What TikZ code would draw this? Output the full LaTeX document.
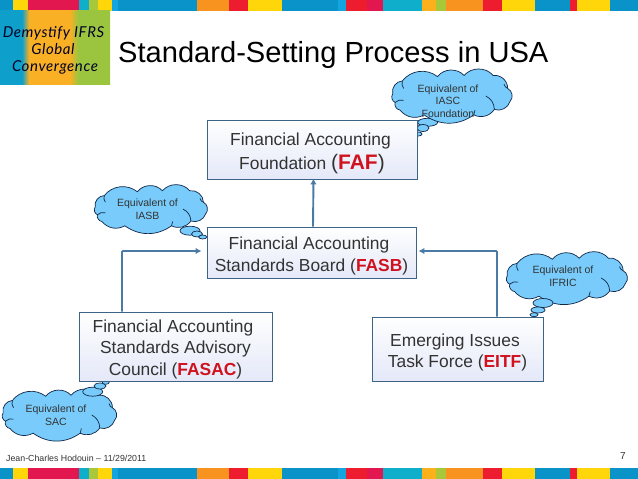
\documentclass[tikz,border=0pt]{standalone}
\usepackage{fontspec}
\setmainfont{Liberation Sans}
\newfontfamily\logofont[LetterSpace=4]{Lato}
\definecolor{cblue}{HTML}{0A93C8}
\definecolor{clight}{HTML}{12A5E0}
\definecolor{cyel}{HTML}{FFD60A}
\definecolor{ccrim}{HTML}{E3174F}
\definecolor{cred}{HTML}{ED1C2E}
\definecolor{cteal}{HTML}{0FAFCB}
\definecolor{cgreen}{HTML}{A8C83A}
\definecolor{camber}{HTML}{FBB01C}
\definecolor{corange}{HTML}{F9931F}
\definecolor{lblue}{HTML}{0E9FCB}
\definecolor{lorange}{HTML}{F9B024}
\definecolor{lgreen}{HTML}{9CC53F}
\definecolor{boxline}{HTML}{3D6486}
\definecolor{boxlow}{HTML}{E4E8F8}
\definecolor{arrowc}{HTML}{4A7BA6}
\definecolor{cloudfill}{HTML}{78CBFA}
\definecolor{cloudline}{HTML}{10284A}
\definecolor{boxtext}{HTML}{333333}
\definecolor{hilite}{HTML}{D0121F}
\usetikzlibrary{arrows.meta,shapes.geometric}
\pgfdeclarehorizontalshading{logoshade}{100bp}{color(0bp)=(lblue); color(35bp)=(lblue); color(38.2bp)=(lorange); color(56.8bp)=(lorange); color(60.5bp)=(lgreen); color(100bp)=(lgreen)}
\tikzset{
  bigbox/.style={draw=boxline,line width=0.9pt,top color=white,bottom color=boxlow,
    inner sep=0pt,align=center,text=boxtext},
  flowline/.style={draw=arrowc,line width=1.9pt,-{Latex[length=6pt,width=6.5pt]}},
  cloudedge/.style={draw=cloudline,fill=cloudfill,line width=0.7pt},
  cloudtext/.style={align=center,text=boxtext,inner sep=0pt,font=\fontsize{10.5}{12.6}\selectfont},
  bubble/.style={cloudedge,ellipse,inner sep=0pt}
}
\newcommand{\hl}[1]{\textcolor{hilite}{\textbf{#1}}}
\newcommand{\stripes}[1]{%
  \foreach \a/\b/\c in {0/13/cblue,13/28/cyel,28/79/ccrim,79/89/cteal,89/98/cgreen,98/112/cyel,112/118/clight,118/197/cblue,197/229/corange,229/248/cred,248/282/cyel,282/338/cblue,338/346/clight,346/367/cred,367/383/ccrim,383/422/cteal,422/436/camber,436/446/cgreen,446/483/corange,483/502/cred,502/535/cyel,535/570/cblue,570/577/cred,577/610/cyel,610/638/cblue}
    {\fill[\c] (\a,#1) rectangle (\b,#1+11);}}
\newcommand{\cloudat}[4]{%
  \begin{scope}[shift={(#1,#2)},x=#3pt,y=-#4pt]
    \draw[cloudedge] (0.01,.46) to[bend left=50] (.09,.22) to[bend left=45] (.38,.14)
      to[bend left=50] (.60,.12) to[bend left=50] (.84,.12) to[bend left=50] (.96,.36)
      to[bend left=55] (.98,.60) to[bend left=45] (.85,.75) to[bend left=40] (.68,.85)
      to[bend left=35] (.27,.85) to[bend left=40] (.07,.76) to[bend left=50] (.03,.62)
      to[bend left=50] cycle;
    \draw[cloudline,line width=0.7pt] (.78,.50) to[bend left=30] (.85,.75);
    \draw[cloudline,line width=0.7pt] (.96,.36) to[bend left=25] (.93,.28);
    \draw[cloudline,line width=0.7pt] (.09,.22) to[bend right=25] (.10,.36);
    \draw[cloudline,line width=0.7pt] (.03,.62) to[bend left=30] (.10,.58);
    \draw[cloudline,line width=0.7pt] (.68,.85) to[bend left=20] (.69,.76);
  \end{scope}}
\begin{document}
\begin{tikzpicture}[x=1pt,y=-1pt]
\useasboundingbox (0,0) rectangle (638,479);
\fill[white] (0,0) rectangle (638,479);
% colour bands
\stripes{0}
\stripes{468}
% logo
\path[shading=logoshade] (0,10) rectangle (110,84);
\node[inner sep=0pt,anchor=base,text=black!85!blue] (logoa) at (53.5,37) {\logofont\itshape\fontsize{15}{15}\selectfont Demystify IFRS};
\node[inner sep=0pt,anchor=base,text=black!85!blue] (logob) at (53,54.5) {\logofont\itshape\fontsize{15}{15}\selectfont Global};
\node[inner sep=0pt,anchor=base,text=black!85!blue] (logoc) at (55,71.5) {\logofont\itshape\fontsize{15}{15}\selectfont Convergence};
% title
\node[inner sep=0pt,anchor=base west] (title) at (118,62) {\fontsize{29.1}{29.1}\selectfont Standard-Setting Process in USA};
% footer
\node[inner sep=0pt,anchor=base west,text=boxtext] (footer) at (6,461.5) {\fontsize{8.8}{8.8}\selectfont Jean-Charles Hodouin -- 11/29/2011};
\node[inner sep=0pt,anchor=base,text=boxtext] (pagenum) at (623,459) {\fontsize{10}{10}\selectfont 7};
% thought bubbles
\node[bubble,minimum width=20pt,minimum height=8pt] (ba1) at (427.7,122.3) {};
\node[bubble,minimum width=12pt,minimum height=7pt] (ba2) at (423,128) {};
\node[bubble,minimum width=7pt,minimum height=4pt] (ba3) at (418.5,134) {};
\cloudat{391.5}{69}{121}{54}
\node[cloudtext] (iasc) at (448,101) {Equivalent of\\IASC\\Foundation};

\cloudat{94}{185}{114}{48}
\node[bubble,minimum width=20pt,minimum height=9pt] (bb1) at (190,230.7) {};
\node[bubble,minimum width=11pt,minimum height=6pt] (bb2) at (197,234) {};
\node[bubble,minimum width=8pt,minimum height=4pt] (bb3) at (202.7,237) {};
\node[cloudtext] (iasb) at (147.5,209.5) {Equivalent of\\IASB};

\cloudat{2}{389}{115}{52}
\node[bubble,minimum width=20pt,minimum height=9pt] (bc1) at (92.7,391.7) {};
\node[bubble,minimum width=12pt,minimum height=6pt] (bc2) at (100,386) {};
\node[bubble,minimum width=7pt,minimum height=4pt] (bc3) at (105.7,382.3) {};
\node[cloudtext] (sac) at (56,415) {Equivalent of\\SAC};

\cloudat{506}{252}{122}{52}
\node[bubble,minimum width=20pt,minimum height=9pt] (bd1) at (543,303) {};
\node[bubble,minimum width=14pt,minimum height=6pt] (bd2) at (538,310) {};
\node[bubble,minimum width=8pt,minimum height=4pt] (bd3) at (534,314.7) {};
\node[cloudtext] (ifric) at (563,276) {Equivalent of\\IFRIC};
% boxes
\node[bigbox,minimum width=210pt,minimum height=59pt,font=\fontsize{17.4}{24}\selectfont] (faf) at (312,149.5) {\rule{0pt}{20pt}Financial Accounting\hspace*{3pt}\\Foundation {\fontsize{21}{24}\selectfont (\hl{FAF})}};
\node[bigbox,minimum width=209pt,minimum height=51pt,font=\fontsize{17.4}{22}\selectfont] (fasb) at (311.5,252.5) {\rule{0pt}{20pt}Financial Accounting\hspace*{5pt}\\Standards Board (\hl{FASB})};
\node[bigbox,minimum width=193pt,minimum height=69pt,font=\fontsize{17.4}{21.5}\selectfont] (fasac) at (175.5,346.5) {\rule{0pt}{18pt}Financial Accounting\hspace*{5pt}\\Standards Advisory\hspace*{5pt}\\Council (\hl{FASAC})};
\node[bigbox,minimum width=171pt,minimum height=64pt,font=\fontsize{17.4}{21.5}\selectfont] (eitf) at (457.5,349) {\rule{0pt}{20pt}Emerging Issues\hspace*{5pt}\\Task Force (\hl{EITF})};
% connectors
\draw[flowline] ([xshift=1.5pt]fasb.north) -- ([xshift=1.5pt,yshift=1pt]faf.south);
\draw[flowline,rounded corners=1pt,shorten >=5pt] ([xshift=-53.5pt]fasac.north) |- ([yshift=1.5pt]fasb.west);
\draw[flowline,rounded corners=1pt,shorten >=2pt] ([xshift=39.5pt]eitf.north) |- ([yshift=1.5pt]fasb.east);
\end{tikzpicture}
\end{document}
